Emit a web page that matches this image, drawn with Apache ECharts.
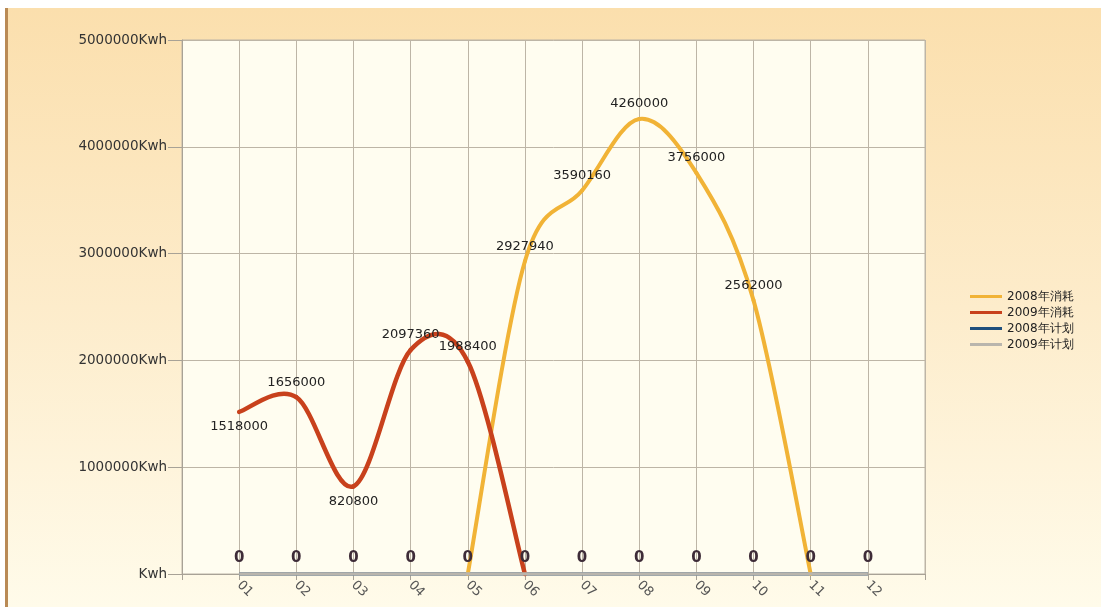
<!DOCTYPE html>
<html>
<head>
<meta charset="utf-8">
<script src="https://cdn.jsdelivr.net/npm/echarts@6/dist/echarts.min.js"></script>
<style>
  html, body { margin: 0; padding: 0; background: #fff; width: 1101px; height: 607px; overflow: hidden; }
  #edge { position: absolute; left: 5px; top: 8px; width: 3px; height: 599px; background: #b98a55; }
  #main { position: absolute; left: 8px; top: 8px; width: 1093px; height: 599px; }
</style>
</head>
<body>
<div id="edge"></div>
<div id="main"></div>
<script>
// 月份（首尾各空一格，和原图一致）
const months = ['01', '02', '03', '04', '05', '06', '07', '08', '09', '10', '11', '12']
const seriesNames = ['2008年消耗', '2009年消耗', '2008年计划', '2009年计划']

// 各月数据，null 表示该月没有点
const use2008 = [null, null, null, null, 0, 2927940, 3590160, 4260000, 3756000, 2562000, 0, null]
const use2009 = [1518000, 1656000, 820800, 2097360, 1988400, 0, null, null, null, null, null, null]
const plan2008 = [0, 0, 0, 0, 0, 0, 0, 0, 0, 0, 0, 0]
const plan2009 = [0, 0, 0, 0, 0, 0, 0, 0, 0, 0, 0, 0]

// 标签放在点下方的月份
const below2009 = ['01', '03']

const yTicks = [0, 1000000, 2000000, 3000000, 4000000, 5000000]

const cats = [''].concat(months, [''])
const pad = arr => [null].concat(arr, [null])

const gridColor = '#bdb5a6'
const font = 'DejaVu Sans'

// [类目下标, 值] 点列表，跳过空值
const toPoints = arr => {
  const out = []
  arr.forEach((v, i) => { if (v !== null) out.push([i + 1, v]) })
  return out
}

// 样条曲线（Catmull-Rom），每个数据项画到下一个点的一段
const splineSeries = (name, arr, color, width) => {
  const pts = toPoints(arr)
  return {
    name,
    type: 'custom',
    data: pts,
    encode: { x: 0, y: 1 },
    color,
    itemStyle: { color },
    z: 4,
    renderItem: (params, api) => {
      const i = params.dataIndex
      if (i >= pts.length - 1) return { type: 'group', children: [] }
      const c = pts.map(p => api.coord(p))
      const p0 = c[Math.max(i - 1, 0)]
      const p1 = c[i]
      const p2 = c[i + 1]
      const p3 = c[Math.min(i + 2, c.length - 1)]
      const k = 1 / 6
      return {
        type: 'bezierCurve',
        shape: {
          x1: p1[0], y1: p1[1],
          cpx1: p1[0] + (p2[0] - p0[0]) * k, cpy1: p1[1] + (p2[1] - p0[1]) * k,
          cpx2: p2[0] - (p3[0] - p1[0]) * k, cpy2: p2[1] - (p3[1] - p1[1]) * k,
          x2: p2[0], y2: p2[1],
        },
        style: { stroke: color, lineWidth: width, fill: null, lineCap: 'round' },
      }
    },
  }
}

// 数值标签（透明散点，只显示文字）
const labelSeries = (arr, belowList) => ({
  type: 'scatter',
  symbol: 'circle',
  symbolSize: 1,
  itemStyle: { color: 'rgba(0,0,0,0)', opacity: 1 },
  z: 6,
  silent: true,
  data: pad(arr.map((v, i) => {
    if (v === null || v === 0) return null
    const item = { value: v }
    if (belowList && belowList.includes(months[i])) item.label = { position: 'bottom' }
    return item
  })),
  label: { show: true, position: 'top', distance: 8, fontSize: 13, color: '#222', opacity: 1, fontFamily: font },
})

const chart = echarts.init(document.getElementById('main'))
chart.setOption({
  animation: false,
  backgroundColor: {
    type: 'linear', x: 0, y: 0, x2: 0, y2: 1,
    colorStops: [
      { offset: 0, color: '#fbdfad' },
      { offset: 0.5, color: '#fdeccb' },
      { offset: 1, color: '#fffbea' },
    ],
  },
  textStyle: { fontFamily: font },
  grid: {
    left: 174, right: 176, top: 32, bottom: 33,
    show: true,
    backgroundColor: '#fffdf0',
    borderColor: gridColor,
    borderWidth: 1,
  },
  legend: {
    orient: 'vertical',
    left: 957,
    top: 277,
    icon: 'rect',
    itemWidth: 32,
    itemHeight: 3,
    itemGap: 3,
    data: seriesNames,
    textStyle: { fontSize: 12, lineHeight: 13, color: '#222', fontFamily: font },
  },
  xAxis: {
    type: 'category',
    data: cats,
    boundaryGap: false,
    axisLine: { lineStyle: { color: '#a8a296', width: 1 } },
    axisTick: { show: true, length: 6, lineStyle: { color: '#a8a296' } },
    splitLine: { show: true, lineStyle: { color: gridColor, width: 1 } },
    axisLabel: {
      rotate: -45,
      color: '#555',
      fontSize: 13,
      margin: 9,
      interval: 0,
    },
  },
  yAxis: {
    type: 'value',
    min: yTicks[0],
    max: yTicks[yTicks.length - 1],
    interval: yTicks[1] - yTicks[0],
    axisLine: { show: true, lineStyle: { color: '#a8a296' } },
    axisTick: { show: true, length: 14, lineStyle: { color: '#a8a296' } },
    splitLine: { show: true, lineStyle: { color: gridColor, width: 1 } },
    axisLabel: {
      color: '#333',
      fontSize: 13.5,
      margin: 15,
      formatter: v => (v === 0 ? 'Kwh' : v + 'Kwh'),
    },
  },
  series: [
    splineSeries(seriesNames[0], use2008, '#f1b336', 4),
    splineSeries(seriesNames[1], use2009, '#c8411c', 4.5),
    {
      name: seriesNames[2],
      type: 'line',
      data: pad(plan2008),
      symbol: 'none',
      color: '#1f4f7d',
      lineStyle: { width: 3.5, color: '#1f4f7d' },
      z: 1,
    },
    {
      name: seriesNames[3],
      type: 'line',
      data: pad(plan2009),
      symbol: 'circle',
      symbolSize: 1,
      showSymbol: true,
      color: '#b9b5ad',
      lineStyle: { width: 3.5, color: '#b9b5ad' },
      z: 5,
      label: {
        show: true,
        position: 'top',
        distance: 8,
        fontSize: 15,
        fontWeight: 'bold',
        color: '#3e2c38',
        fontFamily: font,
      },
    },
    labelSeries(use2008),
    labelSeries(use2009, below2009),
  ],
})
</script>
</body>
</html>
